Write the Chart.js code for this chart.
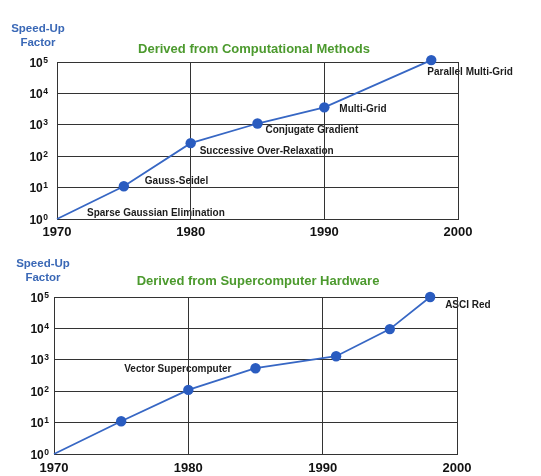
<!DOCTYPE html>
<html>
<head>
<meta charset="utf-8">
<script src="https://cdn.jsdelivr.net/npm/chart.js@4/dist/chart.umd.min.js"></script>
<style>
html,body{margin:0;padding:0;background:#fff;}
#wrap{width:541px;height:476px;position:relative;overflow:hidden;}
canvas{display:block;}
</style>
</head>
<body>
<div id="wrap">
<canvas id="c1" width="541" height="240"></canvas>
<canvas id="c2" width="541" height="236"></canvas>
</div>
<script>
// ---- data ----
const xTickYears = [1970, 1980, 1990, 2000];
const yTickBase = "10";
const yTickPowers = [0, 1, 2, 3, 4, 5];

const methodYears = [1970, 1975, 1980, 1985, 1990, 1998];
const methodValues = [1, 11, 260, 1100, 3600, 115000];
const methodLabels = ["Sparse Gaussian Elimination", "Gauss-Seidel", "Successive Over-Relaxation", "Conjugate Gradient", "Multi-Grid", "Parallel Multi-Grid"];

const hwYears = [1970, 1975, 1980, 1985, 1991, 1995, 1998];
const hwValues = [1, 11, 110, 540, 1300, 9500, 100000];
const hwLabels = ["", "", "", "Vector Supercomputer", "", "", "ASCI Red"];

const yAxisTitle = ["Speed-Up", "Factor"];
const methodTitle = "Derived from Computational Methods";
const hwTitle = "Derived from Supercomputer Hardware";

// ---- styling / placement (not data) ----
const FONT = '"Liberation Sans", Arial, Helvetica, sans-serif';
const methodLabelOffsets = [[30,-6,'left'],[21,-5,'left'],[9,8,'left'],[8,7,'left'],[15,2,'left'],[-4,12,'left']];
const hwLabelOffsets = [null,null,null,[-24,1,'right'],null,null,[15,8,'left']];

const annot = {
  id: 'annot',
  beforeDraw(chart, args, o) {
    const ctx = chart.ctx;
    const meta = chart.getDatasetMeta(0);
    ctx.save();
    // axis title
    ctx.fillStyle = '#3a68b6';
    ctx.font = 'bold 11.5px ' + FONT;
    ctx.textAlign = 'center';
    ctx.textBaseline = 'middle';
    ctx.fillText(yAxisTitle[0], o.axX, o.axY);
    ctx.fillText(yAxisTitle[1], o.axX, o.axY + 14);
    // chart title
    ctx.fillStyle = '#4c9a2e';
    ctx.font = 'bold 13px ' + FONT;
    ctx.fillText(o.title, o.tX, o.tY);
    // point labels
    ctx.fillStyle = '#1c1c1c';
    ctx.font = 'bold 10px ' + FONT;
    o.labels.forEach((t, i) => {
      const off = o.offsets[i];
      if (!t || !off) return;
      const p = meta.data[i];
      ctx.textAlign = off[2];
      ctx.fillText(t, p.x + off[0], p.y + off[1]);
    });
    // y tick labels: base with raised exponent
    const ys = chart.scales.y;
    const right = ys.right - o.ypad;
    yTickPowers.forEach(pw => {
      const py = ys.getPixelForValue(Math.pow(10, pw));
      const e = String(pw);
      ctx.fillStyle = '#111';
      ctx.textBaseline = 'alphabetic';
      ctx.textAlign = 'right';
      ctx.font = 'bold 8.5px ' + FONT;
      const ew = ctx.measureText(e).width;
      ctx.fillText(e, right, py + 0.5);
      ctx.font = 'bold 12px ' + FONT;
      ctx.fillText(yTickBase, right - ew - 0.5, py + 4.5);
    });
    ctx.restore();
  }
};

function makeChart(id, years, values, labels, offsets, title, geo) {
  const canvas = document.getElementById(id);
  return new Chart(canvas, {
    type: 'scatter',
    data: {
      datasets: [{
        data: years.map((y, i) => ({x: y, y: values[i]})),
        showLine: true,
        borderColor: '#3767c4',
        borderWidth: 1.8,
        pointBackgroundColor: years.map((y, i) => i === 0 ? 'rgba(0,0,0,0)' : '#2a5cc0'),
        pointBorderWidth: 0,
        pointRadius: years.map((y, i) => i === 0 ? 0 : 5.2),
        clip: false
      }]
    },
    options: {
      responsive: false,
      animation: false,
      events: [],
      layout: {padding: {left: 0, top: geo.top, right: geo.right, bottom: 0}},
      plugins: {
        legend: {display: false},
        tooltip: {enabled: false},
        annot: {labels: labels, offsets: offsets, title: title, ypad: geo.ypad,
                axX: geo.axX, axY: geo.axY, tX: geo.tX, tY: geo.tY}
      },
      scales: {
        x: {
          type: 'linear', min: 1970, max: 2000,
          afterBuildTicks: s => { s.ticks = xTickYears.map(v => ({value: v})); },
          afterFit: s => { s.height = geo.xh; },
          grid: {color: '#333', lineWidth: 1, drawTicks: false},
          border: {color: '#333', width: 1},
          ticks: {color: '#111', font: {family: FONT, size: 13, weight: 'bold'},
                  padding: geo.xpad, maxRotation: 0, autoSkip: false,
                  callback: v => String(v)}
        },
        y: {
          type: 'logarithmic', min: 1, max: 100000,
          afterBuildTicks: s => { s.ticks = yTickPowers.map(p => ({value: Math.pow(10, p)})); },
          afterFit: s => { s.width = geo.yw; },
          grid: {color: '#333', lineWidth: 1, drawTicks: false},
          border: {color: '#333', width: 1},
          ticks: {display: false}
        }
      }
    },
    plugins: [annot]
  });
}

makeChart('c1', methodYears, methodValues, methodLabels, methodLabelOffsets, methodTitle,
  {top: 62, right: 83, yw: 57, xh: 21, xpad: 6, ypad: 9, axX: 38, axY: 29, tX: 254, tY: 49});
makeChart('c2', hwYears, hwValues, hwLabels, hwLabelOffsets, hwTitle,
  {top: 57, right: 84, yw: 54, xh: 22, xpad: 7, ypad: 5, axX: 43, axY: 24, tX: 258, tY: 41});
</script>
</body>
</html>
